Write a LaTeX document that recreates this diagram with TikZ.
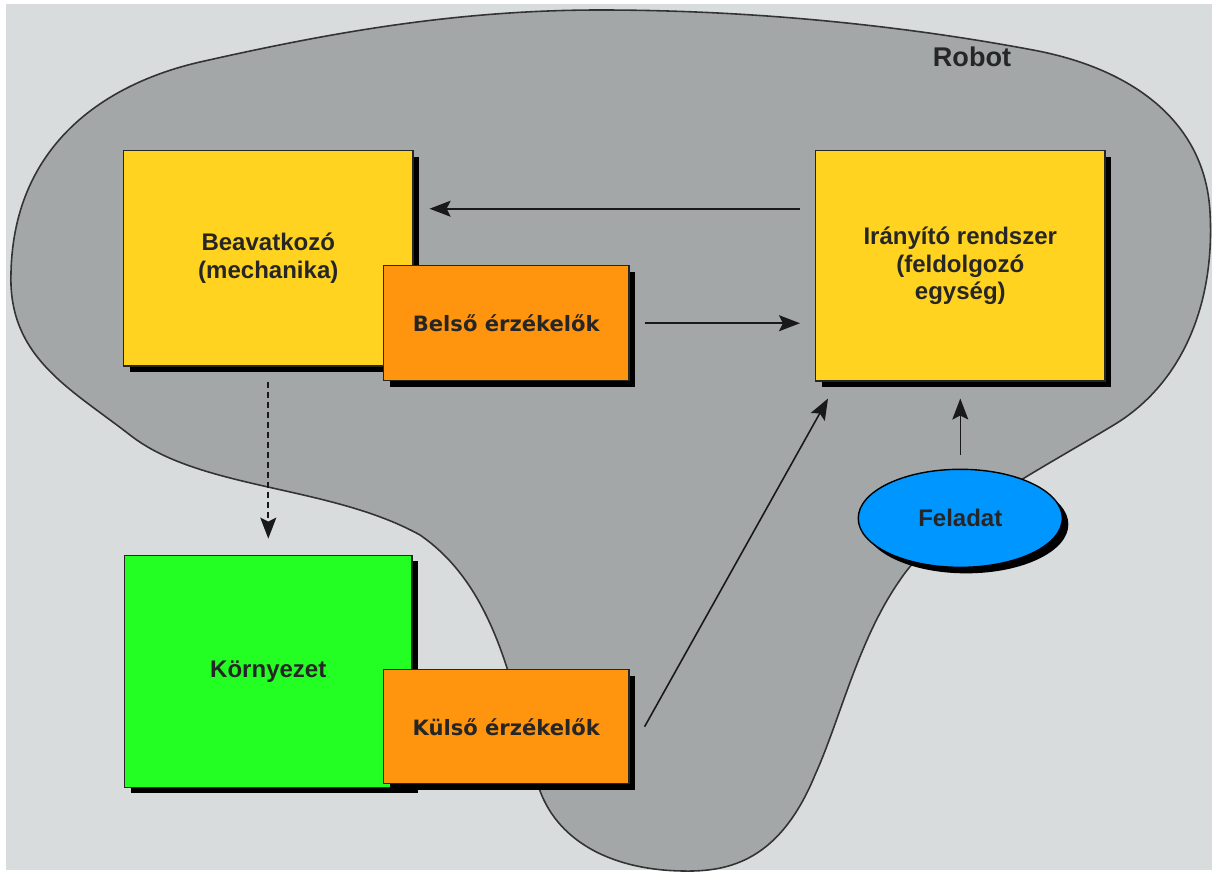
\documentclass[tikz,border=0pt]{standalone}
\usepackage{fontspec}
\setmainfont{Liberation Sans}
\newfontfamily\dejavu{DejaVu Sans}
\usepackage{tikz}
\usetikzlibrary{positioning,arrows.meta,shapes.geometric,shadows}
\definecolor{bgcolor}{RGB}{216,220,221}
\definecolor{robotcolor}{RGB}{164,167,168}
\definecolor{controlcolor}{RGB}{255,211,32}
\definecolor{sensorcolor}{RGB}{255,149,14}
\definecolor{envcolor}{RGB}{35,255,35}
\definecolor{taskcolor}{RGB}{0,150,255}
\tikzset{
    block shadow/.style={drop shadow={shadow xshift=0.06cm, shadow yshift=-0.06cm, fill=black, opacity=1}},
    unit/.style={rectangle, draw=black!85, line width=0.4pt, block shadow, anchor=north west, align=center, inner sep=0pt, text=black!85, font=\fontsize{6.83pt}{7.9pt}\selectfont\bfseries},
    control unit/.style={unit, fill=controlcolor},
    sensor unit/.style={unit, fill=sensorcolor, font=\dejavu\fontsize{6pt}{7pt}\selectfont\bfseries},
    env unit/.style={unit, fill=envcolor},
    task/.style={ellipse, draw=black, line width=0.4pt, fill=taskcolor, block shadow, inner sep=0pt, minimum width=2.04cm, minimum height=0.98cm, text=black!85, font=\fontsize{6.83pt}{7.9pt}\selectfont\bfseries},
    flow arrow/.style={-{Stealth[length=0.21cm, width=0.16cm, inset=0.04cm]}, line width=0.45pt, black!90},
    effect arrow/.style={flow arrow, dash pattern=on 0.06cm off 0.04cm}
}
\begin{document}
\begin{tikzpicture}[x=0.01cm, y=-0.01cm]
\useasboundingbox (0,0) rectangle (1215,873);
\fill[white] (0,0) rectangle (1215,873);
\fill[bgcolor] (6,4) rectangle (1212,870);

% robot body
\filldraw[fill=robotcolor, draw=black!80, line width=0.45pt]
  (11,285) .. controls (8,150) and (100,85) .. (200,62)
  .. controls (320,35) and (450,10) .. (600,10)
  .. controls (750,10) and (900,25) .. (1033,50)
  .. controls (1130,68) and (1205,120) .. (1210,212)
  .. controls (1215,300) and (1185,380) .. (1117,423)
  .. controls (1040,470) and (940,520) .. (900,580)
  .. controls (858,640) and (840,720) .. (815,775)
  .. controls (780,860) and (730,872) .. (683,871)
  .. controls (610,870) and (555,840) .. (538,785)
  .. controls (515,700) and (500,590) .. (420,535)
  .. controls (330,485) and (200,490) .. (130,435)
  .. controls (72,390) and (14,360) .. (11,285) -- cycle;
\node[font=\fontsize{7.7pt}{9pt}\selectfont\bfseries, text=black!85] (robot) at (972,57) {Robot};

\node[control unit, minimum width=2.89cm, minimum height=2.15cm] (beavatkozo) at (123,150) {Beavatkozó\\(mechanika)};
\node[sensor unit, minimum width=2.45cm, minimum height=1.15cm] (belso) at (383,265) {Belső érzékelők};
\node[control unit, minimum width=2.89cm, minimum height=2.30cm] (iranyito) at (815,150) {Irányító rendszer\\(feldolgozó\\egység)};
\node[env unit, minimum width=2.87cm, minimum height=2.32cm, below=1.88cm of beavatkozo] (kornyezet) {Környezet};
\node[sensor unit, minimum width=2.45cm, minimum height=1.14cm] (kulso) at (383,669) {Külső érzékelők};
\node[task, below=0.87cm of iranyito] (feladat) {Feladat};

\draw[flow arrow, shorten <=0.15cm, shorten >=0.16cm] ([yshift=0.57cm]iranyito.west) -- ([yshift=0.57cm]iranyito.west -| beavatkozo.east);
\draw[flow arrow, shorten <=0.15cm, shorten >=0.15cm] (belso.east) -- (belso.east -| iranyito.west);
\draw[effect arrow, shorten <=0.15cm, shorten >=0.16cm] (beavatkozo.south) -- (beavatkozo.south |- kornyezet.north);
\draw[flow arrow] ([xshift=0.15cm]kulso.east) -- ([xshift=0.13cm, yshift=-0.17cm]iranyito.south west);
\draw[flow arrow, shorten <=0.14cm, shorten >=0.17cm] (feladat.north) -- (feladat.north |- iranyito.south);
\end{tikzpicture}
\end{document}
